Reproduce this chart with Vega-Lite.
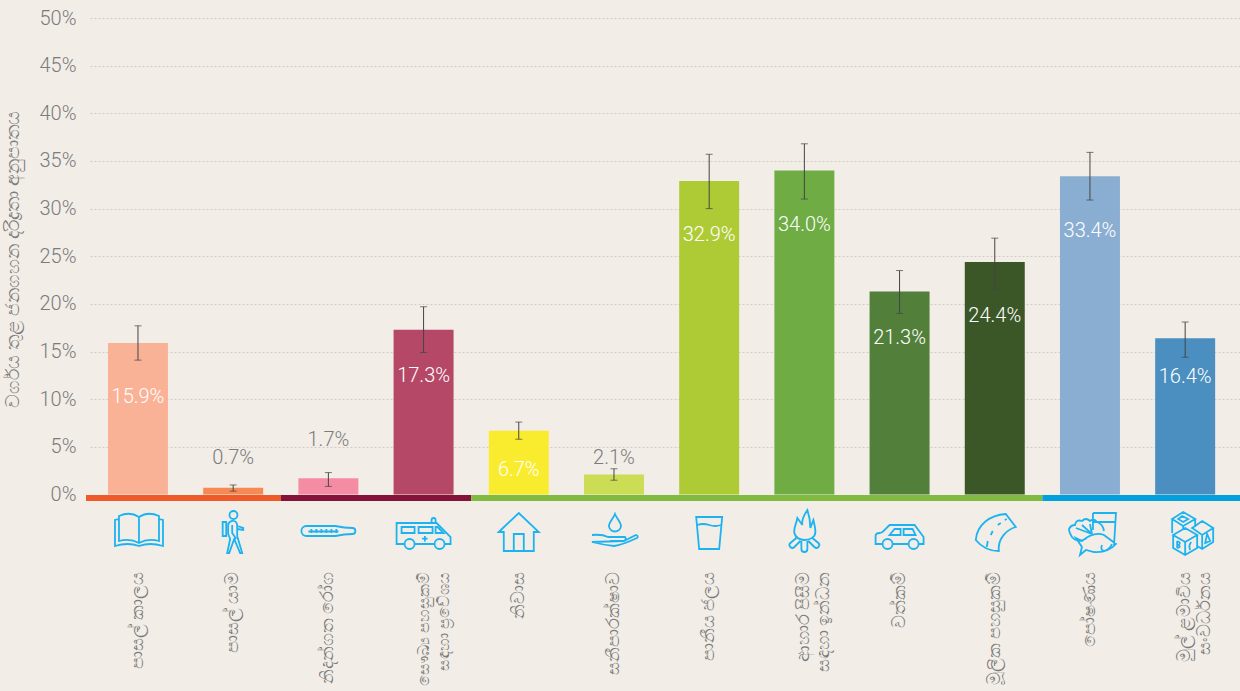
{
"$schema":"https://vega.github.io/schema/vega-lite/v6.json",
"autosize":{"type":"none"},
"padding":{"left":90,"top":18,"right":0,"bottom":197},
"width":1150,"height":476.5,
"background":"#f2ede7",
"config":{"view":{"stroke":null},"font":"Roboto","text":{"font":"Roboto"}},
"datasets":{
"rows":[
{"cat":"පාසල් කාලය","label":"15.9%","share":15.9,"low":14.1,"high":17.7},
{"cat":"පාසල් යාම","label":"0.7%","share":0.7,"low":0.35,"high":1.0},
{"cat":"නිදන්ගත රෝග","label":"1.7%","share":1.7,"low":0.85,"high":2.3},
{"cat":"සෞඛ්‍ය පහසුකම්|සඳහා ප්‍රවේශය","label":"17.3%","share":17.3,"low":14.9,"high":19.7},
{"cat":"නිවාස","label":"6.7%","share":6.7,"low":5.8,"high":7.6},
{"cat":"සනීපාරක්ෂාව","label":"2.1%","share":2.1,"low":1.5,"high":2.7},
{"cat":"පානීය ජලය","label":"32.9%","share":32.9,"low":30.0,"high":35.7},
{"cat":"ආහාර පිසීම|සඳහා ඉන්ධන","label":"34.0%","share":34.0,"low":31.0,"high":36.8},
{"cat":"වත්කම්","label":"21.3%","share":21.3,"low":19.0,"high":23.5},
{"cat":"මූලික පහසුකම්","label":"24.4%","share":24.4,"low":21.5,"high":26.9},
{"cat":"පෝෂණය","label":"33.4%","share":33.4,"low":30.9,"high":35.9},
{"cat":"මුල් ළමාවිය|සංවර්ධනය","label":"16.4%","share":16.4,"low":14.4,"high":18.1}
],
"bands":[
{"group":"අධ්‍යාපනය","from":-0.546,"to":1.5},
{"group":"සෞඛ්‍යය","from":1.5,"to":3.5},
{"group":"ජීවන තත්ත්වය","from":3.5,"to":9.5},
{"group":"පෝෂණය හා ළමා","from":9.5,"to":11.58}
]},
"data":{"name":"rows"},
"resolve":{"scale":{"x":"independent","color":"independent"}},
"layer":[
{"encoding":{"x":{"field":"cat","type":"nominal","sort":null,
 "scale":{"paddingInner":0.37,"paddingOuter":0.225,"align":0.42},
 "axis":{"title":null,"domain":false,"ticks":false,"labelAngle":-90,"labelAlign":"right","labelBaseline":"middle","labelPadding":77,"labelLimit":0,"labelFontSize":{"condition":{"test":"length(datum.label)>25","value":16},"value":18},"labelFontWeight":300,"labelColor":"#7b7b7b","labelOverlap":false,"labelBound":false,"labelFlush":false,"labelLineHeight":20,"labelExpr":"split(datum.label,'|')"}}},
"layer":[
{"mark":{"type":"bar"},
 "encoding":{
  "y":{"field":"share","type":"quantitative","scale":{"domain":[0,50],"nice":false},
   "axis":{"title":"වර්ගය තුළ ජනගහන දරිද්‍රතා අනුපාතය","titleFontSize":19,"titleFontWeight":300,"titleColor":"#7b7b7b","titleX":-68,"titleY":241,"values":[0,5,10,15,20,25,30,35,40,45,50],"labelExpr":"datum.value+'%'","labelFontSize":20,"labelFontWeight":300,"labelColor":"#7b7b7b","labelPadding":14,"domain":false,"ticks":false,"grid":true,"gridColor":"#cfcbc5","gridDash":[2,2],"gridWidth":1}},
  "color":{"field":"cat","type":"nominal","legend":null,"scale":{"domain":["පාසල් කාලය","පාසල් යාම","නිදන්ගත රෝග","සෞඛ්‍ය පහසුකම්|සඳහා ප්‍රවේශය","නිවාස","සනීපාරක්ෂාව","පානීය ජලය","ආහාර පිසීම|සඳහා ඉන්ධන","වත්කම්","මූලික පහසුකම්","පෝෂණය","මුල් ළමාවිය|සංවර්ධනය"],"range":["#fab297","#f68a55","#f48ca3","#b54867","#f9ec2e","#cbdc55","#aecb36","#6fac44","#527f3a","#3c5727","#8aaed2","#4a8fc0"]}}}},
{"mark":{"type":"rule","color":"#444444","strokeWidth":1},
 "encoding":{"y":{"field":"low","type":"quantitative"},"y2":{"field":"high"}}},
{"mark":{"type":"tick","color":"#444444","size":7,"thickness":1},
 "encoding":{"y":{"field":"low","type":"quantitative"}}},
{"mark":{"type":"tick","color":"#444444","size":7,"thickness":1},
 "encoding":{"y":{"field":"high","type":"quantitative"}}},
{"transform":[{"filter":{"field":"label","oneOf":["15.9%","32.9%","34.0%","24.4%","33.4%"]}}],
 "mark":{"type":"text","color":"#ffffff","fontSize":20,"fontWeight":300,"baseline":"middle","yOffset":54.5},
 "encoding":{"y":{"field":"share","type":"quantitative"},"text":{"field":"label"}}},
{"transform":[{"filter":{"field":"label","oneOf":["17.3%","21.3%"]}}],
 "mark":{"type":"text","color":"#ffffff","fontSize":20,"fontWeight":300,"baseline":"middle","yOffset":46},
 "encoding":{"y":{"field":"share","type":"quantitative"},"text":{"field":"label"}}},
{"transform":[{"filter":{"field":"label","oneOf":["6.7%","16.4%"]}}],
 "mark":{"type":"text","color":"#ffffff","fontSize":20,"fontWeight":300,"baseline":"middle","yOffset":39},
 "encoding":{"y":{"field":"share","type":"quantitative"},"text":{"field":"label"}}},
{"transform":[{"filter":{"field":"label","equal":"0.7%"}}],
 "mark":{"type":"text","color":"#7b7b7b","fontSize":20,"fontWeight":300,"baseline":"middle","yOffset":-30},
 "encoding":{"y":{"field":"share","type":"quantitative"},"text":{"field":"label"}}},
{"transform":[{"filter":{"field":"label","equal":"1.7%"}}],
 "mark":{"type":"text","color":"#7b7b7b","fontSize":20,"fontWeight":300,"baseline":"middle","yOffset":-38.5},
 "encoding":{"y":{"field":"share","type":"quantitative"},"text":{"field":"label"}}},
{"transform":[{"filter":{"field":"label","equal":"2.1%"}}],
 "mark":{"type":"text","color":"#7b7b7b","fontSize":20,"fontWeight":300,"baseline":"middle","yOffset":-16},
 "encoding":{"y":{"field":"share","type":"quantitative"},"text":{"field":"label"}}},
{"mark":{"type":"point","filled":false,"opacity":1,"stroke":"#1cb3f0","strokeWidth":1.8,"size":4,"yOffset":36.5},
 "encoding":{"y":{"datum":0},
  "shape":{"field":"cat","type":"nominal","legend":null,"scale":{
   "domain":["පාසල් කාලය","පාසල් යාම","නිදන්ගත රෝග","සෞඛ්‍ය පහසුකම්|සඳහා ප්‍රවේශය","නිවාස","සනීපාරක්ෂාව","පානීය ජලය","ආහාර පිසීම|සඳහා ඉන්ධන","වත්කම්","මූලික පහසුකම්","පෝෂණය","මුල් ළමාවිය|සංවර්ධනය"],
   "range":[
"M-19,-15 Q-8,-20 1,-14 Q10,-20 21,-15 V10 Q10,7 1,12 Q-8,7 -19,10 Z M1,-14 V12 M-19,-12 L-23,-11 V15 Q-10,11 1,15 Q12,11 25,15 V-11 L21,-12",
"M4.3,-16 A4,4 0 1,0 -3.7,-16 A4,4 0 1,0 4.3,-16 Z M-7,-9 H-10.5 V5 H-7 Z M-5,-7 Q-3,-11 1,-10 Q4,-9 4,-5 V5 L9,22 H7 L1,8 L-4,22 H-6 L-3,8 L-5,3 Z M4,-5 L10,-3 V-1 L4,-2 M-1,-6 V2 L3,8",
"M-22,-5 H7 Q16,-3 24,-3 A3,3 0 0 1 24,3 Q16,3 7,5 H-22 A5,5 0 0 1 -22,-5 Z M-20,0.5 H10 M-17,-2 V2 M-12,-2 V2 M-7,-2 V2 M-2,-2 V2 M3,-2 V2 M8,-2 V2",
"M-19,13 H-27 V-8 H13 L27,6 V13 H21 M11,13 H-9 M-9,13 A5,5 0 1,1 -19,13 A5,5 0 1,1 -9,13 Z M21,13 A5,5 0 1,1 11,13 A5,5 0 1,1 21,13 Z M-22,-4 H-9 V2 H-22 Z M-5,-4 H9 V2 H-5 Z M12,-4 L14,-4 L20,2 H12 Z M8,-8 V-11 A2,2 0 0 1 12,-11 V-8 M1.3,5 V10.5 M-1.5,7.7 H4",
"M-20,1 L0,-18 L20,1 H15 V20 H-15 V1 Z M-5,20 V3 H5 V20",
"M1,-17 C3,-12 7,-9 7,-5 A6,5.5 0 0 1 -5,-5 C-5,-9 -1,-12 1,-17 Z M-22,4 Q-12,3 -6,6 L11,6 Q13,8 10,10 H-4 M10,10 L22,4 Q25,5 23,7 Q8,14 0,15 Q-10,14 -22,11 Z",
"M-13,-14 H13 L10,18 H-10 Z M-12,-6 Q-6,-8 0,-6 Q6,-4 12,-6",
"M3,-21 C-1,-15 -3,-10 -2,-6 L-7,-13 C-8,-7 -11,-3 -10,2 C-9,7 -4,9 0,9 C6,9 11,6 11,1 C11,-3 10,-7 9,-11 L6,-3 C6,-10 5,-15 3,-21 Z M-8,7 L-14,12 A2.5,2.5 0 0 0 -10,16 L-4,10 M-3,10 V18 A3,3 0 0 0 3,18 V10 M8,7 L14,12 A2.5,2.5 0 0 1 10,16 L4,10",
"M-17,13 H-24 V5 Q-24,2 -20,2 L-17,1 L-10,-6 H15 L24,6 V13 H19 M9,13 H-7 M-7,13 A5,5 0 1,1 -17,13 A5,5 0 1,1 -7,13 Z M19,13 A5,5 0 1,1 9,13 A5,5 0 1,1 19,13 Z M-10,4 L-5,-2 H1 V4 Z M4,-2 H13 L16,4 H4 Z",
"M-19,9 C-18,-6 -5,-16 11,-17 L21,-4 C11,-1 3,8 4,20 Q-10,20 -19,9 Z M-8,16 L-7,10 M-4,4 L-2,0 M3,-6 L6,-8 M10,-11 L12,-12",
"M3,-18 H26 L24,15 M3,-9 H26 M3,-18 V-1 M-3,7 Q-12,13 -18,6 Q-21,1 -21,-2 Q-19,-6 -15,-6 Q-14,-12 -8,-10 Q-4,-14 0,-10 Q4,-13 7,-9 Q13,-7 14,0 M-14,-3 L2,3 M-8,-6 L2,3 M0,-7 L2,3 M-14,7 L-8,10 Q4,0 14,4 L26,13 Q18,22 4,21 L-4,19 L-10,24 L-8,16 L-14,7 Z M12,14 Q10,19 14,20 Q20,18 22,13",
"M-2,-19 L10,-12 L-2,-5 L-13,-12 Z M-13,-12 V2 M-2,-5 V-1 M10,-12 V-4 M0,-3 L12,4 L0,11 L-12,4 Z M-12,4 V17 L0,24 L12,17 V4 M0,11 V24 M17,-10 L28,-3 L17,4 L7,-3 Z M28,-3 V11 L17,18 L12,15 M17,4 V18 M-8,10 V17 M-8,10 Q-3,12 -7,14 Q-3,16 -8,17 M22,3 L25,10 L20,12 Z M-3,-15 L3,-12 L-2,-9 L-7,-12 Z M6,11 Q3,15 5,19"
]}}}}
]},
{"data":{"name":"bands"},
 "mark":{"type":"rule","strokeWidth":6,"yOffset":3.5},
 "encoding":{
  "x":{"field":"from","type":"quantitative","axis":null,"scale":{"domain":[-0.504,11.576],"nice":false,"zero":false}},
  "x2":{"field":"to"},
  "y":{"datum":0},
  "color":{"field":"group","type":"nominal","legend":null,"sort":null,"scale":{"domain":["අධ්‍යාපනය","සෞඛ්‍යය","ජීවන තත්ත්වය","පෝෂණය හා ළමා"],"range":["#ee5a28","#831339","#80ba3f","#02a0dc"]}}}}
]
}
